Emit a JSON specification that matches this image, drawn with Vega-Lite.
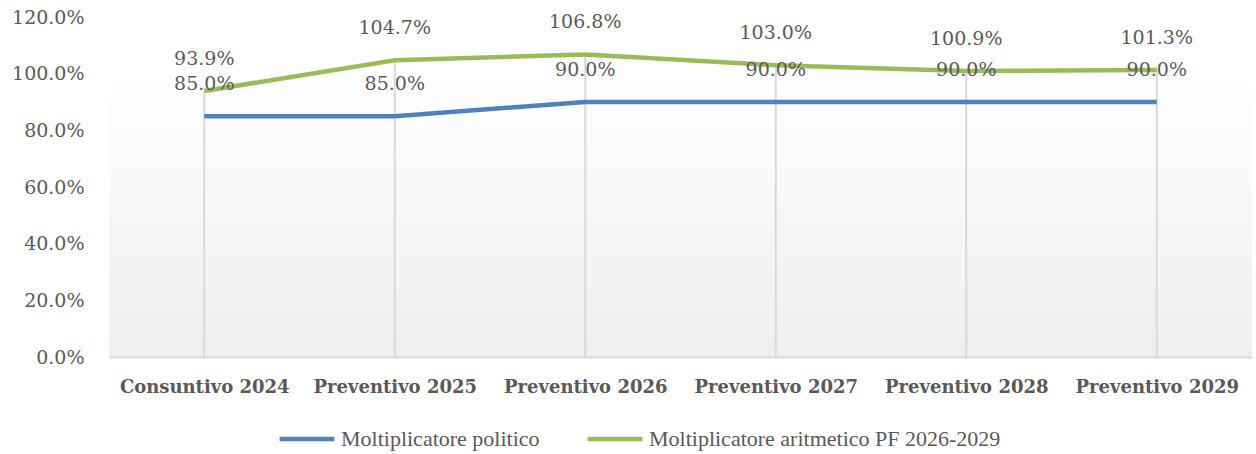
{
  "$schema": "https://vega.github.io/schema/vega-lite/v6.json",
  "width": 1143,
  "height": 340,
  "autosize": {"type": "none"},
  "padding": {"left": 109, "top": 17, "right": 4, "bottom": 97},
  "background": "white",
  "config": {
    "view": {
      "stroke": null,
      "fill": {"gradient": "linear", "x1": 0, "y1": 0, "x2": 0, "y2": 1, "stops": [{"offset": 0, "color": "#ffffff"}, {"offset": 0.15, "color": "#ffffff"}, {"offset": 1, "color": "#efefef"}]}
    },
    "axis": {"labelFont": "DejaVu Serif", "labelColor": "#595959", "grid": false, "ticks": false, "title": null, "labelOverlap": false}
  },
  "data": {
    "values": [
      {"cat": "Consuntivo 2024", "series": "Moltiplicatore politico", "value": 0.85},
      {"cat": "Preventivo 2025", "series": "Moltiplicatore politico", "value": 0.85},
      {"cat": "Preventivo 2026", "series": "Moltiplicatore politico", "value": 0.90},
      {"cat": "Preventivo 2027", "series": "Moltiplicatore politico", "value": 0.90},
      {"cat": "Preventivo 2028", "series": "Moltiplicatore politico", "value": 0.90},
      {"cat": "Preventivo 2029", "series": "Moltiplicatore politico", "value": 0.90},
      {"cat": "Consuntivo 2024", "series": "Moltiplicatore aritmetico PF 2026-2029", "value": 0.939},
      {"cat": "Preventivo 2025", "series": "Moltiplicatore aritmetico PF 2026-2029", "value": 1.047},
      {"cat": "Preventivo 2026", "series": "Moltiplicatore aritmetico PF 2026-2029", "value": 1.068},
      {"cat": "Preventivo 2027", "series": "Moltiplicatore aritmetico PF 2026-2029", "value": 1.030},
      {"cat": "Preventivo 2028", "series": "Moltiplicatore aritmetico PF 2026-2029", "value": 1.009},
      {"cat": "Preventivo 2029", "series": "Moltiplicatore aritmetico PF 2026-2029", "value": 1.013}
    ]
  },
  "encoding": {
    "x": {
      "field": "cat", "type": "nominal", "sort": null,
      "scale": {"type": "point", "padding": 0.5},
      "axis": {"labelAngle": 0, "labelFontWeight": "bold", "labelFontSize": 18, "labelPadding": 21, "domain": true, "domainColor": "#d9d9d9", "domainWidth": 2}
    }
  },
  "layer": [
    {
      "mark": {"type": "rule", "color": "#d9d9d9", "strokeWidth": 2},
      "encoding": {
        "y": {"aggregate": "max", "field": "value", "type": "quantitative", "scale": {"domain": [0, 1.2]}},
        "y2": {"datum": 0}
      }
    },
    {
      "mark": {"type": "line", "strokeWidth": 4.5},
      "encoding": {
        "y": {"field": "value", "type": "quantitative", "scale": {"domain": [0, 1.2]},
          "axis": {"format": ".1%", "values": [0, 0.2, 0.4, 0.6, 0.8, 1.0, 1.2], "labelFontSize": 19, "labelPadding": 25, "domain": false}},
        "color": {
          "field": "series", "type": "nominal",
          "scale": {"domain": ["Moltiplicatore politico", "Moltiplicatore aritmetico PF 2026-2029"], "range": ["#4f81bd", "#9bbb59"]},
          "legend": {
            "title": null, "orient": "none", "direction": "horizontal", "legendX": 168, "legendY": 392, "padding": 0,
            "symbolType": "stroke", "symbolSize": 3000, "symbolStrokeWidth": 4.5, "labelLimit": 600,
            "labelFont": "Liberation Serif", "labelFontSize": 22, "labelColor": "#595959", "columnPadding": 38, "labelOffset": 4
          }
        }
      }
    },
    {
      "mark": {"type": "text", "dy": -32, "font": "DejaVu Serif", "fontSize": 19, "color": "#595959"},
      "encoding": {
        "y": {"field": "value", "type": "quantitative"},
        "text": {"field": "value", "type": "quantitative", "format": ".1%"}
      }
    }
  ]
}
